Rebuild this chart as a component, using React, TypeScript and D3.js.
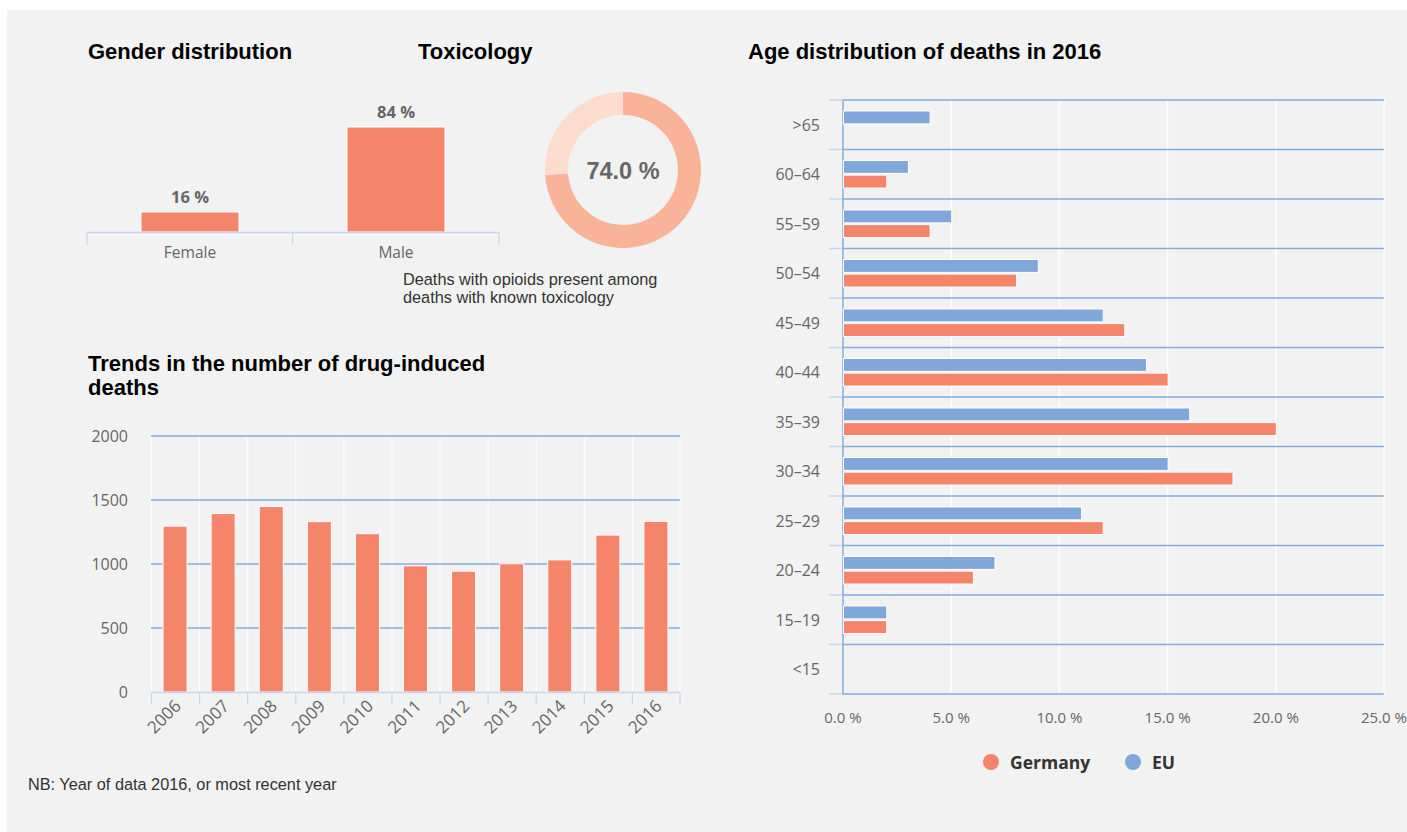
import React from "react";
import * as d3 from "d3";

const genderCats = ["Female", "Male"];
const genderVals = [16, 84];

const toxValue = 74.0;

const years = ["2006", "2007", "2008", "2009", "2010", "2011", "2012", "2013", "2014", "2015", "2016"];
const deaths = [1296, 1394, 1449, 1331, 1237, 986, 944, 1002, 1032, 1226, 1333];
const deathTicks = [0, 500, 1000, 1500, 2000];

const ageCats = [">65", "60–64", "55–59", "50–54", "45–49", "40–44", "35–39", "30–34", "25–29", "20–24", "15–19", "<15"];
const germanyVals: (number | null)[] = [null, 2, 4, 8, 13, 15, 20, 18, 12, 6, 2, null];
const euVals: (number | null)[] = [4, 3, 5, 9, 12, 14, 16, 15, 11, 7, 2, null];
const ageTicks = [0, 5, 10, 15, 20, 25];
const seriesNames = ["Germany", "EU"];

const ORANGE = "#f4846a";
const BLUE = "#7fa7da";
const GRID = "#86acdc";
const LIGHT = "#c8d6ec";
const AX = "'Open Sans', 'Noto Sans', sans-serif";
const HV = "'Liberation Sans', Arial, sans-serif";

export default function App() {
  // Gender
  const gx = d3.scaleBand().domain(genderCats).range([87, 499]);
  const gy = d3.scaleLinear().domain([0, 100]).range([232, 107]);
  const gBarW = 98;

  // Donut
  const pie = d3.pie<number>().sort(null).value((d) => d);
  const arcs = pie([toxValue, 100 - toxValue]);
  const arcGen = d3.arc<d3.PieArcDatum<number>>().innerRadius(55).outerRadius(78);

  // Trends
  const tx = d3.scaleBand().domain(years).range([151, 680]).paddingInner(0.5).paddingOuter(0.25);
  const txOuter = d3.scaleBand().domain(years).range([151, 680]);
  const ty = d3.scaleLinear().domain([0, 2000]).range([692, 436]);

  // Age
  const ax = d3.scaleLinear().domain([0, 25]).range([843, 1384]);
  const ay = d3.scaleBand().domain(ageCats).range([100, 694]);
  const ay1 = d3.scaleBand().domain(["EU", "Germany"]).range([0, ay.bandwidth()]).paddingInner(0.12).paddingOuter(0.75);

  return (
    <svg width={1407} height={832} style={{ position: "absolute", left: 0, top: 0 }}>
      <rect x={0} y={0} width={1407} height={832} fill="#ffffff" />
      <rect x={7} y={10} width={1400} height={822} fill="#f2f2f2" />

      {/* Titles */}
      <g fontFamily={HV} fontWeight="bold" fontSize={22} fill="#000">
        <text x={88} y={59}>Gender distribution</text>
        <text x={418} y={59}>Toxicology</text>
        <text x={748} y={59}>Age distribution of deaths in 2016</text>
        <text x={88} y={371}>Trends in the number of drug-induced</text>
        <text x={88} y={395}>deaths</text>
      </g>

      {/* Gender chart */}
      <g>
        {genderCats.map((c, i) => {
          const cx = (gx(c) as number) + gx.bandwidth() / 2;
          return (
            <g key={c}>
              <rect x={cx - gBarW / 2} y={gy(genderVals[i])} width={gBarW} height={gy(0) - gy(genderVals[i])} fill={ORANGE} stroke="#fff" strokeWidth={1} />
              <text x={cx} y={gy(genderVals[i]) - 9} textAnchor="middle" fontFamily={AX} fontWeight="bold" fontSize={16.5} fill="#666">{genderVals[i]} %</text>
              <text x={cx} y={258} textAnchor="middle" fontFamily={AX} fontSize={15.5} fill="#666">{c}</text>
            </g>
          );
        })}
        <line x1={87} x2={499} y1={232.5} y2={232.5} stroke={LIGHT} strokeWidth={1.5} />
        {[87, 292.5, 499].map((x, i) => (
          <line key={i} x1={x} x2={x} y1={232} y2={245} stroke={LIGHT} strokeWidth={1.2} />
        ))}
      </g>

      {/* Donut */}
      <g transform="translate(623,170)">
        {arcs.map((a, i) => (
          <path key={i} d={arcGen(a) as string} fill={i === 0 ? "#f9b398" : "#fcdccd"} />
        ))}
        <text x={0} y={8.5} textAnchor="middle" fontFamily={HV} fontWeight="bold" fontSize={23.5} fill="#666">{toxValue.toFixed(1)} %</text>
      </g>
      <g fontFamily={HV} fontSize={16.3} fill="#333">
        <text x={403} y={285}>Deaths with opioids present among</text>
        <text x={403} y={303}>deaths with known toxicology</text>
      </g>

      {/* Trends chart */}
      <g>
        {years.map((y, i) => (
          <line key={"v" + i} x1={(txOuter(y) as number) + 0.5} x2={(txOuter(y) as number) + 0.5} y1={436} y2={692} stroke="#fff" strokeWidth={1} />
        ))}
        <line x1={680} x2={680} y1={436} y2={692} stroke="#fff" strokeWidth={1} />
        {deathTicks.filter((t) => t > 0).map((t) => (
          <line key={t} x1={151} x2={680} y1={ty(t)} y2={ty(t)} stroke={GRID} strokeWidth={1.3} />
        ))}
        {years.map((y, i) => (
          <rect key={y} x={tx(y)} y={ty(deaths[i])} width={tx.bandwidth()} height={ty(0) - ty(deaths[i])} fill={ORANGE} stroke="#fff" strokeWidth={1} />
        ))}
        <line x1={151} x2={680} y1={692.5} y2={692.5} stroke={LIGHT} strokeWidth={1.5} />
        {years.map((y, i) => (
          <line key={"t" + i} x1={(txOuter(y) as number) + 0.5} x2={(txOuter(y) as number) + 0.5} y1={692} y2={704} stroke={LIGHT} strokeWidth={1.2} />
        ))}
        <line x1={680} x2={680} y1={692} y2={704} stroke={LIGHT} strokeWidth={1.2} />
        {deathTicks.map((t) => (
          <text key={t} x={128} y={ty(t) + 6} textAnchor="end" fontFamily={AX} fontSize={16} fill="#666">{t}</text>
        ))}
        {years.map((y) => {
          const cx = (tx(y) as number) + tx.bandwidth() / 2;
          return (
            <text key={y} transform={`translate(${cx + 7},${707}) rotate(-45)`} textAnchor="end" fontFamily={AX} fontSize={17} fill="#666">{y}</text>
          );
        })}
      </g>

      {/* Age chart */}
      <g>
        {ageTicks.filter((t) => t > 0).map((t) => (
          <line key={t} x1={ax(t)} x2={ax(t)} y1={100} y2={694} stroke="#fff" strokeWidth={1.5} />
        ))}
        {ageCats.map((c) => (
          <line key={c} x1={829} x2={843} y1={(ay(c) as number)} y2={(ay(c) as number)} stroke={LIGHT} strokeWidth={1.5} />
        ))}
        <line x1={829} x2={843} y1={694} y2={694} stroke={LIGHT} strokeWidth={1.5} />
        {ageCats.map((c) => (
          <line key={"g" + c} x1={843} x2={1384} y1={(ay(c) as number)} y2={(ay(c) as number)} stroke={GRID} strokeWidth={1.3} />
        ))}
        <line x1={843} x2={1384} y1={694} y2={694} stroke={GRID} strokeWidth={1.5} />
        <line x1={843} x2={843} y1={100} y2={694} stroke={GRID} strokeWidth={1.5} />
        {ageCats.map((c, i) => {
          const by = ay(c) as number;
          return (
            <g key={"b" + c}>
              {euVals[i] != null && (
                <rect x={ax(0) + 0.5} y={by + (ay1("EU") as number)} width={ax(euVals[i] as number) - ax(0)} height={ay1.bandwidth()} fill={BLUE} stroke="#fff" strokeWidth={1} />
              )}
              {germanyVals[i] != null && (
                <rect x={ax(0) + 0.5} y={by + (ay1("Germany") as number)} width={ax(germanyVals[i] as number) - ax(0)} height={ay1.bandwidth()} fill={ORANGE} stroke="#fff" strokeWidth={1} />
              )}
              <text x={820} y={by + ay.bandwidth() / 2 + 6} textAnchor="end" fontFamily={AX} fontSize={16} fill="#666">{c}</text>
            </g>
          );
        })}
        {ageTicks.map((t) => (
          <text key={"x" + t} x={ax(t)} y={723} textAnchor="middle" fontFamily={AX} fontSize={15} fill="#666">{t.toFixed(1)} %</text>
        ))}
        {/* Legend */}
        {seriesNames.map((s, i) => {
          const lx = i === 0 ? 991 : 1133;
          return (
            <g key={s}>
              <circle cx={lx} cy={762} r={8} fill={i === 0 ? ORANGE : BLUE} />
              <text x={lx + 19} y={768.5} fontFamily={AX} fontWeight="bold" fontSize={17.5} fill="#333">{s}</text>
            </g>
          );
        })}
      </g>

      <text x={28} y={790} fontFamily={HV} fontSize={16.3} fill="#333">NB: Year of data 2016, or most recent year</text>
    </svg>
  );
}
